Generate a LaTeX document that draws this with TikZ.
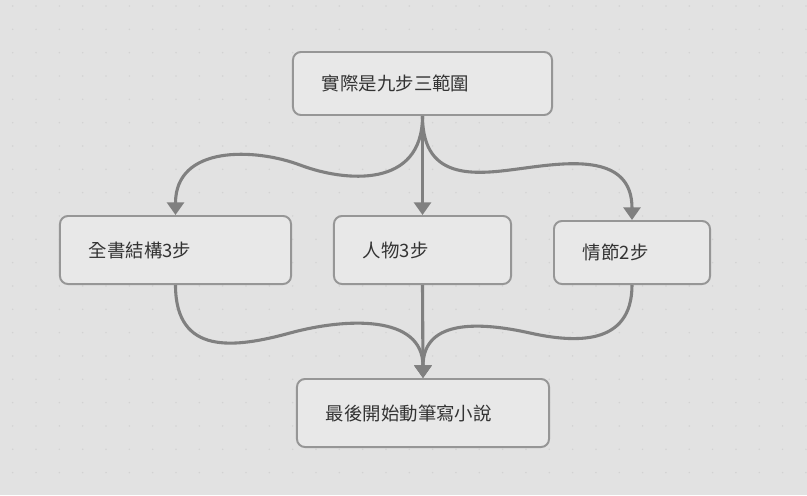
\documentclass[tikz,border=0pt]{standalone}
\usepackage{fontspec}
\setmainfont{Noto Sans CJK TC}
\usepackage{tikz}
\usetikzlibrary{positioning,arrows.meta}
\definecolor{cbg}{RGB}{226,226,226}
\definecolor{cdot}{RGB}{210,210,210}
\definecolor{cbox}{RGB}{232,232,232}
\definecolor{cborder}{RGB}{150,150,150}
\definecolor{cline}{RGB}{128,128,128}
\definecolor{ctext}{RGB}{51,51,51}

\begin{document}
\begin{tikzpicture}[
  x=0.025cm, y=-0.025cm,
  box/.style={draw=cborder, fill=cbox, line width=1.4pt, rounded corners=0.2cm,
    inner xsep=0.725cm, inner ysep=0pt, align=left, text=ctext,
    font=\fontsize{13.1}{16}\selectfont},
  flow/.style={draw=cline, line width=2.2pt, -{Triangle[width=12pt,length=9pt]}}
]

% BACKGROUND
\useasboundingbox (0,0) rectangle (807,495);
\fill[cbg] (0,0) rectangle (807,495);
\foreach \i in {0,...,34}{
  \foreach \j in {0,...,20}{
    \fill[cdot] ({12.7+23.33*\i},{6+23.33*\j}) circle (0.6pt);
  }
}

% BOXES
\node[box, text width=5.025cm, minimum height=1.575cm] (top) at (422.5,83.5) {實際是九步三範圍};
\node[box, text width=4.325cm, minimum height=1.7cm] (left) at (175.5,250) {全書結構3步};
\node[box, text width=2.975cm, minimum height=1.7cm] (mid) at (422.5,250) {人物3步};
\node[box, text width=2.45cm, minimum height=1.575cm] (right) at (632,252.5) {情節2步};
\node[box, text width=4.85cm, minimum height=1.7cm] (bottom) at (423,413) {最後開始動筆寫小說};

% SPLIT
\coordinate (mL) at (300,165);
\coordinate (mR) at (525,168);
\draw[flow] (top.south) .. controls +(0,73) and +(45,17) .. (mL)
  .. controls +(-45,-17) and +(0,-70) .. (left.north);
\draw[flow] (top.south) -- (mid.north);
\draw[flow] (top.south) .. controls +(0,68) and +(-45,6) .. (mR)
  .. controls +(45,-6) and +(0,-66) .. (right.north);

% MERGE
\coordinate (mBL) at (290,333);
\coordinate (mBR) at (530,333);
\draw[flow] (left.south) .. controls +(0,71) and +(-55,15) .. (mBL)
  .. controls +(55,-15) and +(0,-64) .. (bottom.north);
\draw[flow] (mid.south) -- (bottom.north);
\draw[flow] (right.south) .. controls +(0,61) and +(45,10) .. (mBR)
  .. controls +(-45,-10) and +(0,-61) .. (bottom.north);

\end{tikzpicture}
\end{document}
